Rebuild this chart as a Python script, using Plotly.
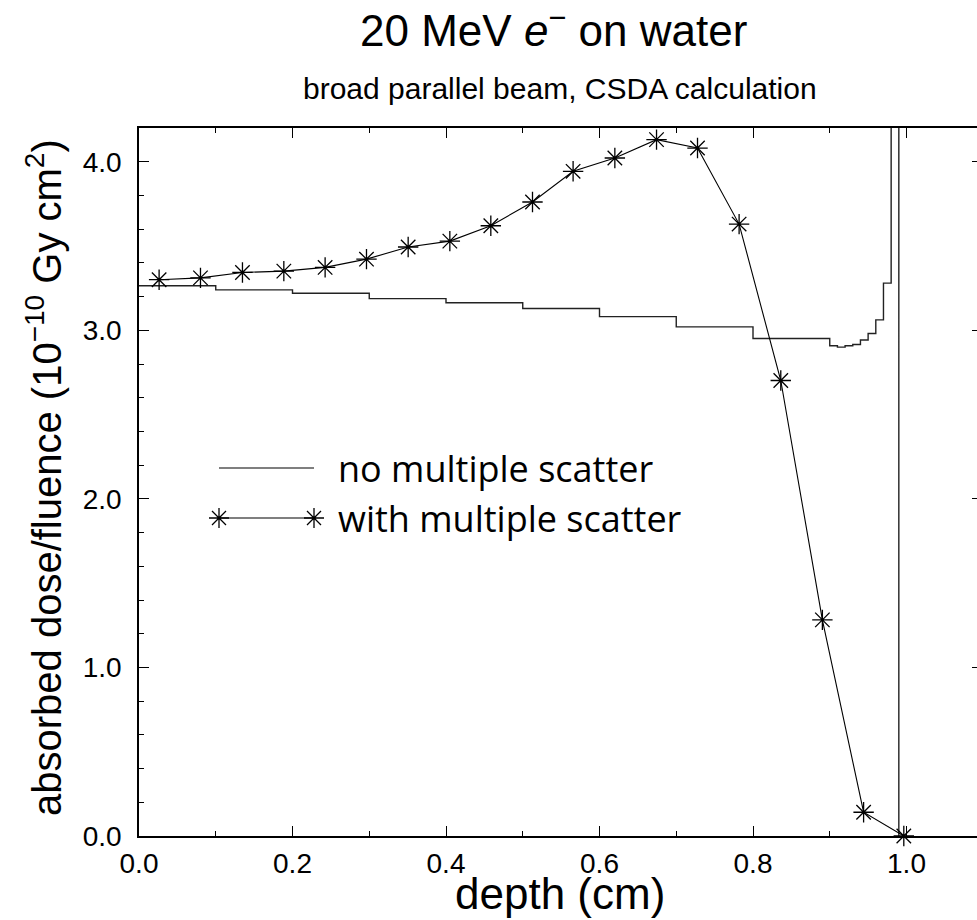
import plotly.graph_objects as go

# ---------------- data ----------------
# CSDA, no multiple scatter: left edges of depth bins (cm) and dose/fluence (1e-10 Gy cm^2)
depth_bins_no = [0.0, 0.1, 0.2, 0.3, 0.4, 0.5, 0.6, 0.7, 0.8, 0.9,
                 0.91, 0.92, 0.93, 0.94, 0.95, 0.96, 0.97, 0.98, 0.99]
dose_no = [3.264, 3.240, 3.220, 3.188, 3.163, 3.129, 3.081, 3.020, 2.951, 2.908,
           2.900, 2.908, 2.916, 2.942, 2.981, 3.062, 3.280, 6.0, 0.0]

# with multiple scatter
depth_ms = [0.0262, 0.0801, 0.1348, 0.1887, 0.2425, 0.2964, 0.3507, 0.4050, 0.4584,
            0.5127, 0.5656, 0.6200, 0.6743, 0.7277, 0.7819, 0.8362, 0.8904, 0.9441, 0.9965]
dose_ms = [3.300, 3.311, 3.343, 3.351, 3.373, 3.422, 3.494, 3.529, 3.620,
           3.761, 3.943, 4.022, 4.131, 4.081, 3.630, 2.702, 1.282, 0.141, 0.0]

x_ticks = [0.0, 0.2, 0.4, 0.6, 0.8, 1.0]
y_ticks = [0.0, 1.0, 2.0, 3.0, 4.0]

legend_labels = ["no multiple scatter", "with multiple scatter"]
title_text = "20 MeV <i>e</i><sup>−</sup> on water"
subtitle_text = "broad parallel beam, CSDA calculation"
x_title = "depth (cm)"
y_title = "absorbed dose/fluence (10<sup>−10</sup> Gy cm<sup>2</sup>)"

# ---------------- layout geometry ----------------
W, H = 977, 920
L, R, T, B = 139, 977, 128, 836
XMAX = (R - L) / 767.5
YMAX = 4.2
FONT = "Liberation Sans, Arial, Helvetica, sans-serif"
LEG_FONT = "Open Sans, Liberation Sans, sans-serif"


def px(xp):
    return (xp - L) / (R - L)


def py(yp):
    return (B - yp) / (B - T)


fig = go.Figure()

fig.add_trace(go.Scatter(
    x=depth_bins_no, y=dose_no, mode="lines", line_shape="hv",
    line=dict(color="#222", width=1.4), name=legend_labels[0],
    showlegend=False, hoverinfo="skip"))

fig.add_trace(go.Scatter(
    x=depth_ms, y=dose_ms, mode="lines+markers",
    line=dict(color="black", width=1.1),
    marker=dict(symbol="asterisk-open", size=17,
                line=dict(color="black", width=1.3), color="black"),
    name=legend_labels[1], showlegend=False, cliponaxis=False, hoverinfo="skip"))

# dummy trace to carry right-side ticks
fig.add_trace(go.Scatter(x=[None], y=[None], yaxis="y2", showlegend=False, hoverinfo="skip"))

axis_common = dict(
    showgrid=False, zeroline=False, showline=True, linecolor="black", linewidth=1.5,
    ticks="inside", ticklen=10, tickwidth=1.2, tickcolor="black",
    tickfont=dict(family=FONT, size=28, color="black"),
)

fig.update_layout(
    width=W, height=H,
    margin=dict(l=L, r=W - R, t=T, b=H - B, pad=0),
    paper_bgcolor="white", plot_bgcolor="white",
    showlegend=False, hovermode=False,
    xaxis=dict(range=[0, XMAX], tickvals=x_ticks, tickformat=".1f", mirror="ticks",
               minor=dict(dtick=0.1, tick0=0, ticks="inside", ticklen=5, tickwidth=1.2,
                          tickcolor="black"),
               ticklabelstandoff=2, **axis_common),
    yaxis=dict(range=[0, YMAX], tickvals=y_ticks, tickformat=".1f", mirror=False,
               minor=dict(dtick=0.2, tick0=0, ticks="inside", ticklen=5, tickwidth=1.2,
                          tickcolor="black"),
               ticklabelstandoff=10, **axis_common),
    yaxis2=dict(range=[0, YMAX], overlaying="y", side="right", anchor="x",
                tickvals=y_ticks, ticks="inside", ticklen=5, tickwidth=1.2, tickcolor="black",
                showticklabels=False, showline=False, showgrid=False, zeroline=False),
)

ann = []
ann.append(dict(text=title_text, x=px(553), y=py(27), xref="paper", yref="paper",
                xanchor="center", yanchor="middle", showarrow=False,
                font=dict(family=FONT, size=44, color="black")))
ann.append(dict(text=subtitle_text, x=px(560), y=py(89), xref="paper", yref="paper",
                xanchor="center", yanchor="middle", showarrow=False,
                font=dict(family=FONT, size=30, color="black")))
ann.append(dict(text=x_title, x=px(560), y=py(893), xref="paper", yref="paper",
                xanchor="center", yanchor="middle", showarrow=False,
                font=dict(family=FONT, size=44, color="black")))
ann.append(dict(text=y_title, x=px(44), y=py(478), xref="paper", yref="paper",
                xanchor="center", yanchor="middle", showarrow=False, textangle=-90,
                font=dict(family=FONT, size=40, color="black")))

# manual legend
leg_rows = [468, 518]
for i, lab in enumerate(legend_labels):
    ann.append(dict(text=lab, x=px(336), y=py(leg_rows[i]), xref="paper", yref="paper",
                    xanchor="left", yanchor="middle", showarrow=False,
                    font=dict(family=LEG_FONT, size=36, color="black")))

shapes = []
for i in range(2):
    shapes.append(dict(type="line", xref="paper", yref="paper",
                       x0=px(219), x1=px(314), y0=py(leg_rows[i]), y1=py(leg_rows[i]),
                       line=dict(color="black", width=1.2)))
star = "M-10,0L10,0M0,-10L0,10M-7,-7L7,7M-7,7L7,-7"
for xp in (219, 314):
    shapes.append(dict(type="path", xref="paper", yref="paper",
                       xsizemode="pixel", ysizemode="pixel",
                       xanchor=px(xp), yanchor=py(leg_rows[1]), path=star,
                       line=dict(color="black", width=1.3)))

fig.update_layout(annotations=ann, shapes=shapes)

fig.write_html(
    "out.html",
    config={"displayModeBar": False},
    post_script="document.body.style.margin='0';document.body.style.overflow='hidden';",
)
